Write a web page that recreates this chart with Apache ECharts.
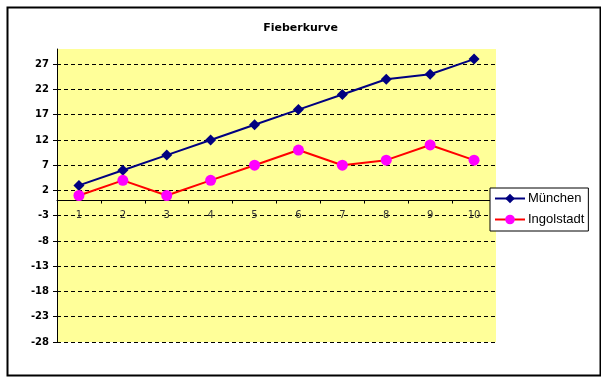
<!DOCTYPE html>
<html>
<head>
<meta charset="utf-8">
<script src="https://cdn.jsdelivr.net/npm/echarts@6/dist/echarts.min.js"></script>
<style>html,body{margin:0;padding:0;background:#fff}#c{width:601px;height:379px}</style>
</head>
<body>
<div id="c"></div>
<script>
const categories = ['1','2','3','4','5','6','7','8','9','10'];
const muenchen = [3, 6, 9, 12, 15, 18, 21, 24, 25, 28];
const ingolstadt = [1, 4, 1, 4, 7, 10, 7, 8, 11, 8];
const yTicks = [-28, -23, -18, -13, -8, -3, 2, 7, 12, 17, 22, 27];
const yMin = -28, yMax = 30;

const gridTop = 49, gridBottom = 37, H = 379;
const gridHeight = H - gridTop - gridBottom;
const zeroOffset = -((0 - yMin) / (yMax - yMin)) * gridHeight;

const chart = echarts.init(document.getElementById('c'), null, {renderer: 'canvas'});
chart.setOption({
  animation: false,
  backgroundColor: '#fff',
  textStyle: {fontFamily: 'Liberation Sans'},
  title: {
    text: 'Fieberkurve', left: 'center', top: 18,
    textStyle: {fontSize: 11, fontWeight: 'bold', color: '#000', fontFamily: 'DejaVu Sans'}
  },
  graphic: [{
    type: 'rect', left: 5, top: 5, z: -1,
    shape: {width: 593, height: 368},
    style: {fill: 'none', stroke: '#000', lineWidth: 2}
  }],
  grid: {
    left: 57, top: gridTop, right: 105, bottom: gridBottom,
    show: true, backgroundColor: '#ffff99', borderWidth: 0
  },
  legend: {
    orient: 'vertical', left: 490, top: 188,
    padding: [4, 4, 5, 4], itemGap: 8, itemWidth: 30, itemHeight: 12,
    backgroundColor: '#fff', borderColor: '#000', borderWidth: 1,
    textStyle: {fontSize: 13, color: '#000', fontFamily: 'Liberation Sans', padding: [0, 0, 0, -2]},
    data: ['München', 'Ingolstadt']
  },
  xAxis: {
    type: 'category', data: categories, boundaryGap: true,
    offset: zeroOffset,
    axisLine: {onZero: false, lineStyle: {color: '#000', width: 1}},
    axisTick: {show: true, inside: false, length: 3, lineStyle: {color: '#000'}},
    axisLabel: {fontSize: 10, color: '#333', margin: 10, fontFamily: 'DejaVu Sans'},
    splitLine: {show: false}
  },
  yAxis: {
    type: 'value', min: yMin, max: yMax,
    axisLine: {show: true, lineStyle: {color: '#000', width: 1}},
    axisTick: {show: true, length: 4, lineStyle: {color: '#000'}, customValues: yTicks},
    axisLabel: {fontSize: 10, fontWeight: 'bold', color: '#000', margin: 8, customValues: yTicks, fontFamily: 'DejaVu Sans'},
    splitLine: {show: true, lineStyle: {color: '#000', width: 1, type: [4, 3]}}
  },
  series: [
    {
      name: 'München', type: 'line', data: muenchen,
      symbol: 'diamond', symbolSize: 11,
      lineStyle: {color: '#000080', width: 2},
      itemStyle: {color: '#000080'}
    },
    {
      name: 'Ingolstadt', type: 'line', data: ingolstadt,
      symbol: 'circle', symbolSize: 11,
      lineStyle: {color: '#ff0000', width: 2},
      itemStyle: {color: '#ff00ff'}
    }
  ]
});
</script>
</body>
</html>
